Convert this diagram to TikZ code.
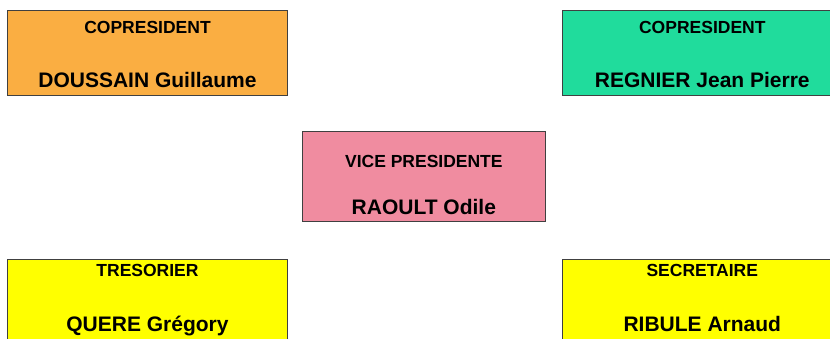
\documentclass[tikz,border=0pt]{standalone}
\usepackage{fontspec}
\setmainfont{Liberation Sans}
\usetikzlibrary{positioning}

\definecolor{copresA}{RGB}{250,174,66}
\definecolor{copresB}{RGB}{32,220,156}
\definecolor{vicepres}{RGB}{240,140,160}
\definecolor{bureau}{RGB}{255,255,0}

\begin{document}
\begin{tikzpicture}[x=1pt, y=-1pt, node distance=274pt,
member node/.style={rectangle,draw=black!75,line width=0.8pt,inner sep=0pt,
  minimum width=280pt,minimum height=84.5pt},
role/.style={anchor=base,inner sep=0pt,font=\bfseries\fontsize{17.5}{20}\selectfont},
person/.style={anchor=base,inner sep=0pt,font=\bfseries\fontsize{21}{24}\selectfont}]

\useasboundingbox (0,0) rectangle (830,338);
\clip (0,0) rectangle (830,338);

\node[member node] [fill=copresA] (doussain) at (147.5,52.75)
  [label={[role,yshift=-23.5pt]north:COPRESIDENT}]
  [label={[person,yshift=7.7pt]south:DOUSSAIN Guillaume}] {};
\node[member node] [fill=copresB] (regnier) [right=of doussain]
  [label={[role,yshift=-23.5pt]north:COPRESIDENT}]
  [label={[person,yshift=7.7pt]south:REGNIER Jean Pierre}] {};
\node[member node] [fill=vicepres] (raoult) at (423.85,176.35)
  [minimum width=242.3pt,minimum height=90.7pt]
  [label={[role,yshift=-37.3pt]north:VICE PRESIDENTE}]
  [label={[person,yshift=7.7pt]south:RAOULT Odile}] {};
\node[member node] [fill=bureau] (quere) [below=163.5pt of doussain]
  [label={[role,yshift=-17.5pt]north:TRESORIER}]
  [label={[person,yshift=12.3pt]south:QUERE Grégory}] {};
\node[member node] [fill=bureau] (ribule) [below=163.5pt of regnier]
  [label={[role,yshift=-17.5pt]north:SECRETAIRE}]
  [label={[person,yshift=12.3pt]south:RIBULE Arnaud}] {};
\end{tikzpicture}
\end{document}
